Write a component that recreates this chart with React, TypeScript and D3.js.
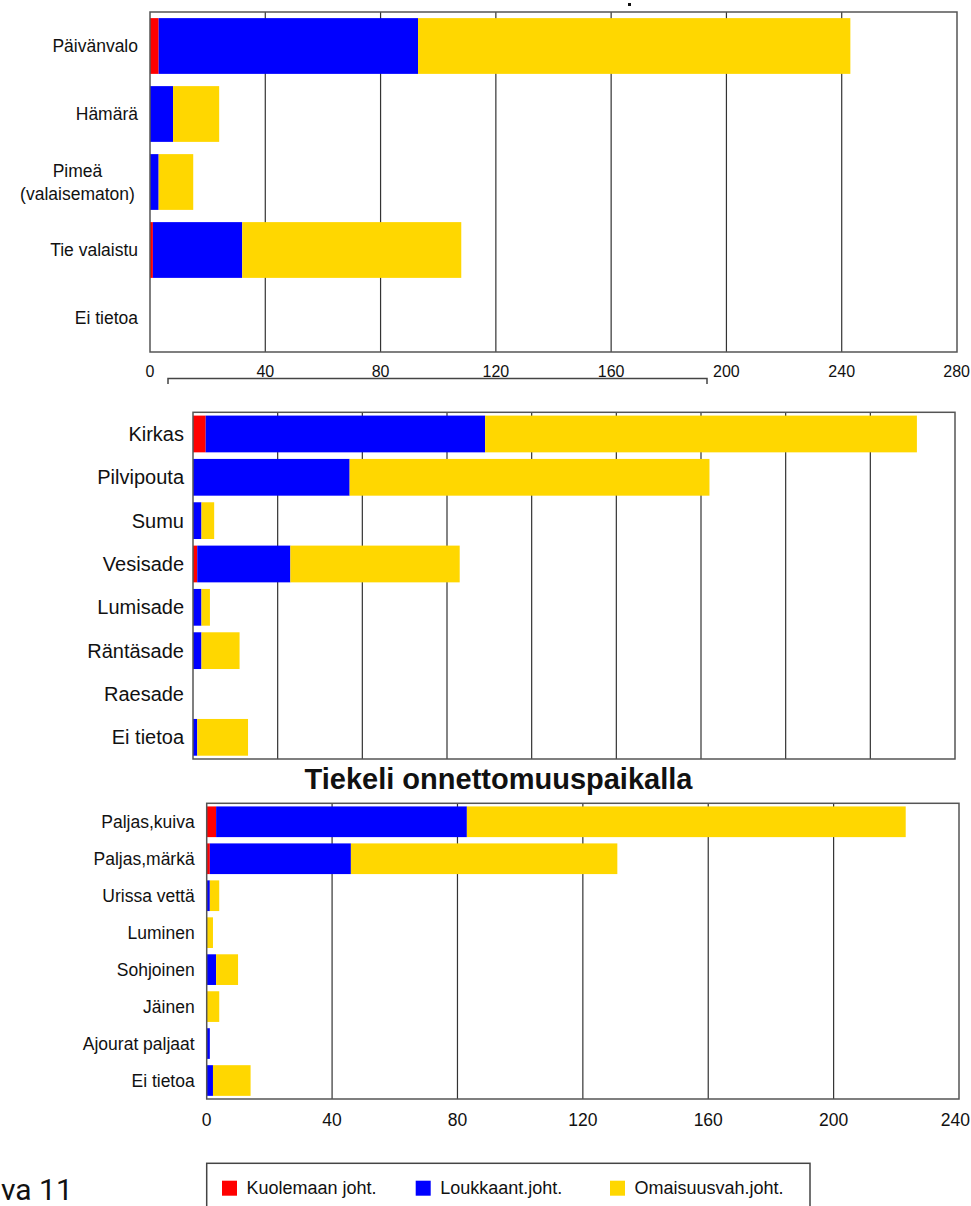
import React from "react";
import * as d3 from "d3";

// ---------- DATA ----------
const seriesKeys = ["Kuolemaan joht.", "Loukkaant.joht.", "Omaisuusvah.joht."];
const seriesColors = ["#FF0000", "#0000FF", "#FFD700"];

// Panel 1: valaistus
const lightCats = ["Päivänvalo", "Hämärä", "Pimeä|(valaisematon)", "Tie valaistu", "Ei tietoa"];
const lightDeath = [3, 0, 0, 1, 0];
const lightInjury = [90, 8, 3, 31, 0];
const lightProperty = [150, 16, 12, 76, 0];
const lightTicks = [0, 40, 80, 120, 160, 200, 240, 280];

// Panel 2: sää
const weatherCats = ["Kirkas", "Pilvipouta", "Sumu", "Vesisade", "Lumisade", "Räntäsade", "Raesade", "Ei tietoa"];
const weatherDeath = [3, 0, 0, 1, 0, 0, 0, 0];
const weatherInjury = [66, 37, 2, 22, 2, 2, 0, 1];
const weatherProperty = [102, 85, 3, 40, 2, 9, 0, 12];
const weatherTicks = [0, 20, 40, 60, 80, 100, 120, 140, 160, 180];

// Panel 3: tiekeli
const roadTitle = "Tiekeli onnettomuuspaikalla";
const roadCats = ["Paljas,kuiva", "Paljas,märkä", "Urissa vettä", "Luminen", "Sohjoinen", "Jäinen", "Ajourat paljaat", "Ei tietoa"];
const roadDeath = [3, 1, 0, 0, 0, 0, 0, 0];
const roadInjury = [80, 45, 1, 0, 3, 0, 1, 2];
const roadProperty = [140, 85, 3, 2, 7, 4, 0, 12];
const roadTicks = [0, 40, 80, 120, 160, 200, 240];

const captionText = "va 11";

const FONT = "'Liberation Sans', Arial, sans-serif";
const W = 971;

type PanelProps = {
  cats: string[];
  death: number[];
  injury: number[];
  property: number[];
  ticks: number[];
  x0: number;
  x1: number;
  y0: number;
  y1: number;
  padInner: number;
  labelGap: number;
  labelSize: number;
  tickSize?: number;
  tickBaseline?: number;
  showTickLabels: boolean;
};

function Panel(p: PanelProps) {
  const xMax = p.ticks[p.ticks.length - 1];
  const x = d3.scaleLinear().domain([0, xMax]).range([p.x0, p.x1]);
  const y = d3
    .scaleBand<string>()
    .domain(p.cats)
    .range([p.y0, p.y1])
    .paddingInner(p.padInner)
    .paddingOuter(p.padInner / 2);
  const rows = p.cats.map((c, i) => ({
    cat: c,
    [seriesKeys[0]]: p.death[i],
    [seriesKeys[1]]: p.injury[i],
    [seriesKeys[2]]: p.property[i],
  }));
  const stacked = d3.stack<any>().keys(seriesKeys)(rows);
  return (
    <g>
      {p.ticks.slice(1, -1).map((t) => (
        <line key={t} x1={x(t)} x2={x(t)} y1={p.y0} y2={p.y1} stroke="#333" strokeWidth={1.2} />
      ))}
      {stacked.map((s, si) => (
        <g key={s.key} fill={seriesColors[si]}>
          {s.map((d, i) =>
            d[1] - d[0] > 0 ? (
              <rect
                key={i}
                x={x(d[0])}
                y={y(p.cats[i])}
                width={x(d[1]) - x(d[0])}
                height={y.bandwidth()}
              />
            ) : null
          )}
        </g>
      ))}
      <rect x={p.x0} y={p.y0} width={p.x1 - p.x0} height={p.y1 - p.y0} fill="none" stroke="#555" strokeWidth={1.5} />
      {p.cats.map((c) => {
        const cy = (y(c) as number) + y.bandwidth() / 2;
        const lines = c.split("|");
        if (lines.length === 1) {
          return (
            <text key={c} x={p.x0 - p.labelGap} y={cy} dy="0.35em" textAnchor="end" fontSize={p.labelSize} fontFamily={FONT} fill="#111">
              {c}
            </text>
          );
        }
        const w = 121;
        const cx = p.x0 - p.labelGap - w / 2;
        return (
          <text key={c} x={cx} y={cy} textAnchor="middle" fontSize={p.labelSize} fontFamily={FONT} fill="#111">
            {lines.map((l, li) => (
              <tspan key={li} x={cx} dy={li === 0 ? "-0.3em" : "1.3em"}>
                {l}
              </tspan>
            ))}
          </text>
        );
      })}
      {p.showTickLabels &&
        p.ticks.map((t) => {
          const px = x(t);
          const nearEdge = px + 15 > W;
          return (
            <text
              key={t}
              x={nearEdge ? W - 1 : px}
              y={p.tickBaseline}
              textAnchor={nearEdge ? "end" : "middle"}
              fontSize={p.tickSize}
              fontFamily={FONT}
              fill="#111"
            >
              {t}
            </text>
          );
        })}
    </g>
  );
}

export default function App() {
  return (
    <div style={{ position: "absolute", left: 0, top: 0 }}>
      <svg width={971} height={1206} style={{ display: "block", background: "#fff" }}>
        <rect x={0} y={0} width={971} height={1206} fill="#fff" />
        <rect x={628} y={3} width={3} height={3} fill="#111" />
        <Panel
          cats={lightCats}
          death={lightDeath}
          injury={lightInjury}
          property={lightProperty}
          ticks={lightTicks}
          x0={150}
          x1={957}
          y0={12}
          y1={352}
          padInner={0.18}
          labelGap={12}
          labelSize={17.5}
          tickSize={16}
          tickBaseline={376.5}
          showTickLabels={true}
        />
        <path d="M168,384 V378.5 H707 V384" fill="none" stroke="#444" strokeWidth={1.5} />
        <Panel
          cats={weatherCats}
          death={weatherDeath}
          injury={weatherInjury}
          property={weatherProperty}
          ticks={weatherTicks}
          x0={193}
          x1={955}
          y0={412.3}
          y1={759}
          padInner={0.152}
          labelGap={9}
          labelSize={20}
          showTickLabels={false}
        />
        <text x={498.5} y={789} textAnchor="middle" fontSize={29} fontWeight="bold" fontFamily={FONT} fill="#111">
          {roadTitle}
        </text>
        <Panel
          cats={roadCats}
          death={roadDeath}
          injury={roadInjury}
          property={roadProperty}
          ticks={roadTicks}
          x0={206.7}
          x1={959}
          y0={803.3}
          y1={1099}
          padInner={0.17}
          labelGap={12}
          labelSize={17.5}
          tickSize={17.5}
          tickBaseline={1126}
          showTickLabels={true}
        />
        <rect x={206.7} y={1163.3} width={603.3} height={60} fill="none" stroke="#444" strokeWidth={1.5} />
        {seriesKeys.map((k, i) => {
          const lx = [222, 415.7, 610][i];
          return (
            <g key={k}>
              <rect x={lx} y={1180.7} width={15} height={15} fill={seriesColors[i]} />
              <text x={lx + 24.5} y={1194} fontSize={18} fontFamily={FONT} fill="#111">
                {k}
              </text>
            </g>
          );
        })}
        <text x={1} y={1200} fontSize={30} fontFamily="Roboto, sans-serif" fill="#111">
          {captionText}
        </text>
      </svg>
    </div>
  );
}
